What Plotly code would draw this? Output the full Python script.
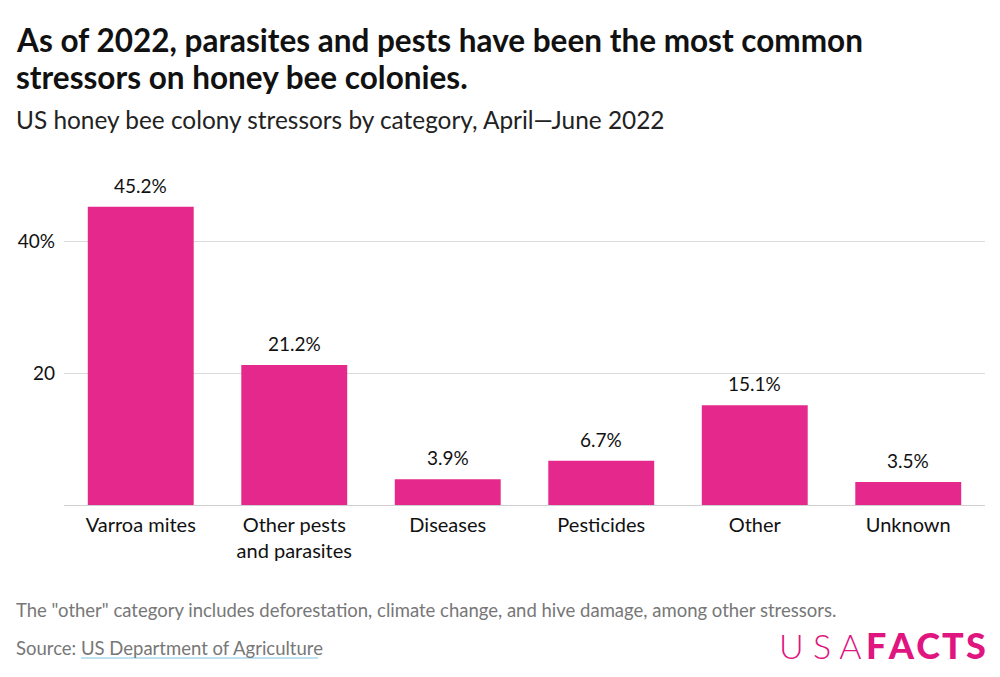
import plotly.graph_objects as go

categories = ["Varroa mites", "Other pests<br>and parasites", "Diseases", "Pesticides", "Other", "Unknown"]
values = [45.2, 21.2, 3.9, 6.7, 15.1, 3.5]
labels = ["45.2%", "21.2%", "3.9%", "6.7%", "15.1%", "3.5%"]
tick_vals = [0, 20, 40]
tick_text = ["", "20", "40%"]

BAR = "#E5288C"
PINK = "#E0157F"
FONT = "Source Sans Pro, Lato, sans-serif"

L, R, T, B = 64, 15, 175, 172
W, H = 1000, 677
pw, ph = W - L - R, H - T - B


def px(x):
    return (x - L) / pw


def py(y):
    return 1 - (y - T) / ph


fig = go.Figure(go.Bar(
    x=categories, y=values,
    marker=dict(color=BAR, line=dict(width=0)),
    hoverinfo="skip",
))

for c, v, lab in zip(categories, values, labels):
    fig.add_annotation(x=c, y=v, text=lab, showarrow=False, yanchor="bottom",
                       yshift=8, font=dict(family=FONT, size=19, color="#111"))

fig.update_layout(
    width=W, height=H,
    paper_bgcolor="white", plot_bgcolor="white",
    margin=dict(l=L, r=R, t=T, b=B, autoexpand=False),
    bargap=0.31,
    showlegend=False,
    font=dict(family=FONT, color="#111"),
    xaxis=dict(tickfont=dict(size=20, color="#111"), showline=False, ticks="",
               showgrid=False, fixedrange=True, automargin=False,
               ticklabelstandoff=6),
    yaxis=dict(range=[0, 50], tickvals=tick_vals, ticktext=tick_text,
               tickfont=dict(size=19, color="#111"), gridcolor="#dcdcdc",
               gridwidth=1, zeroline=True, zerolinecolor="#d0d0d0", zerolinewidth=1,
               showline=False, ticks="", ticklabelstandoff=8, automargin=False,
               fixedrange=True),
)

anns = [
    dict(text="<b>As of 2022, parasites and pests have been the most common</b>",
         x=14, y=40, size=31.5, color="#111"),
    dict(text="<b>stressors on honey bee colonies.</b>",
         x=14, y=77, size=31.5, color="#111"),
    dict(text="US honey bee colony stressors by category, April\u2014June 2022",
         x=14, y=119, size=24.4, color="#222"),
    dict(text="The \"other\" category includes deforestation, climate change, and hive damage, among other stressors.",
         x=14, y=610, size=18.5, color="#777"),
    dict(text="Source: US Department of Agriculture",
         x=14, y=648, size=18.5, color="#777"),
]
for a in anns:
    fig.add_annotation(text=a["text"], xref="paper", yref="paper",
                       x=px(a["x"]), y=py(a["y"]), showarrow=False,
                       xanchor="left", yanchor="middle", align="left",
                       font=dict(size=a["size"], color=a["color"], family=FONT))

# underline for source link
fig.add_shape(type="line", xref="paper", yref="paper",
              x0=px(81), x1=px(318), y0=py(658), y1=py(658),
              line=dict(color="#bfe1f2", width=2))

# logo
fig.add_annotation(text="U S A", xref="paper", yref="paper",
                   x=px(777), y=py(645), showarrow=False,
                   xanchor="left", yanchor="middle",
                   font=dict(size=34, color=PINK, family="Lato", weight=300))
fig.add_annotation(text="F\u200aA\u200aC\u200aT\u200aS", xref="paper", yref="paper",
                   x=px(988), y=py(645), showarrow=False,
                   xanchor="right", yanchor="middle",
                   font=dict(size=36, color=PINK, family="Lato", weight=900))

fig.write_html("out.html", config={"displayModeBar": False},
               post_script="document.body.style.margin='0';")
